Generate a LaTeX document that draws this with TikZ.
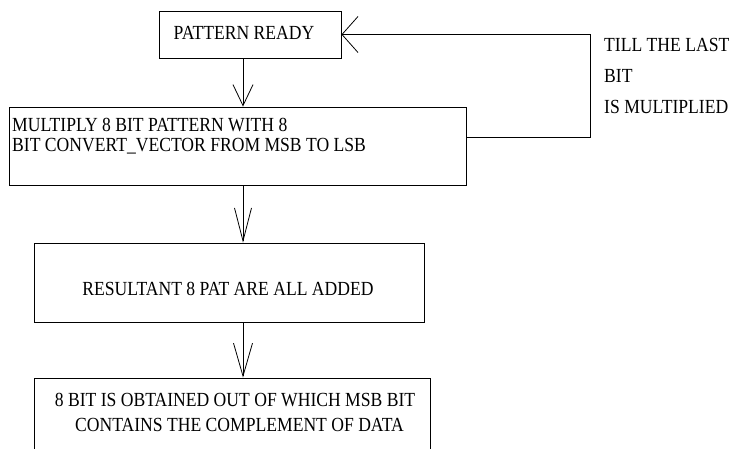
\documentclass[tikz,border=0pt]{standalone}
\usepackage{fontspec}
\setmainfont{Liberation Serif}
\usetikzlibrary{arrows.meta}
\usetikzlibrary{positioning}

\newcommand{\narrow}[1]{\scalebox{0.88}[1]{#1}}

\tikzset{
  stepbox/.style={draw, line width=0.9pt, inner sep=0pt},
  steptext/.style={inner sep=0pt, font=\fontsize{20}{20}\selectfont},
  flow/.style 2 args={-{Straight Barb[length=#1pt, width=#2pt]}, line width=0.8pt},
}

\begin{document}
\begin{tikzpicture}[x=1pt, y=-1pt]
  \useasboundingbox (0,0) rectangle (729,448);
  \clip (0,0) rectangle (729,448);

  \node[stepbox, minimum width=182pt, minimum height=47pt] (ready) at (250,34.5) {};
  \node[steptext] (readytext) at (244,32.5) {\narrow{PATTERN READY}};

  \node[stepbox, minimum width=457pt, minimum height=78pt] (mult) at (237.5,146) {};
  \node[steptext, anchor=north west, align=left, font=\fontsize{20}{19.5}\selectfont] (multtext) at (12,118) {\narrow{MULTIPLY 8 BIT PATTERN WITH 8}\\\narrow{BIT CONVERT\_VECTOR FROM MSB TO LSB}};

  \node[stepbox, minimum width=390pt, minimum height=79pt] (added) at (229,282.5) {};
  \node[steptext] (addedtext) at (228,288.5) {\narrow{RESULTANT 8 PAT ARE ALL ADDED}};

  \node[stepbox, minimum width=396pt, minimum height=90pt] (result) at (232,423) {};
  \node[steptext, anchor=north, align=center, font=\fontsize{20}{24.5}\selectfont] (resulttext) at (235,393) {\narrow{8 BIT IS OBTAINED OUT OF WHICH MSB BIT}\\\hspace*{9pt}\narrow{CONTAINS THE COMPLEMENT OF DATA}};

  \node[steptext, anchor=north west, align=left, font=\fontsize{20}{31}\selectfont] (till) at (604,38) {\narrow{TILL THE LAST}\\\narrow{BIT}\\\narrow{IS MULTIPLIED}};

  \coordinate (spine) at (243,0);
  \coordinate (turn) at (590,137);

  \draw[flow={21}{20}] (ready.south -| spine) -- (mult.north -| spine);
  \draw[flow={33}{17}] (mult.south -| spine) -- (added.north -| spine);
  \draw[flow={33}{19}] (added.south -| spine) -- (result.north -| spine);
  \draw[flow={16}{36}] (mult.east |- turn) -- (turn) |- (ready.east);

\end{tikzpicture}
\end{document}
